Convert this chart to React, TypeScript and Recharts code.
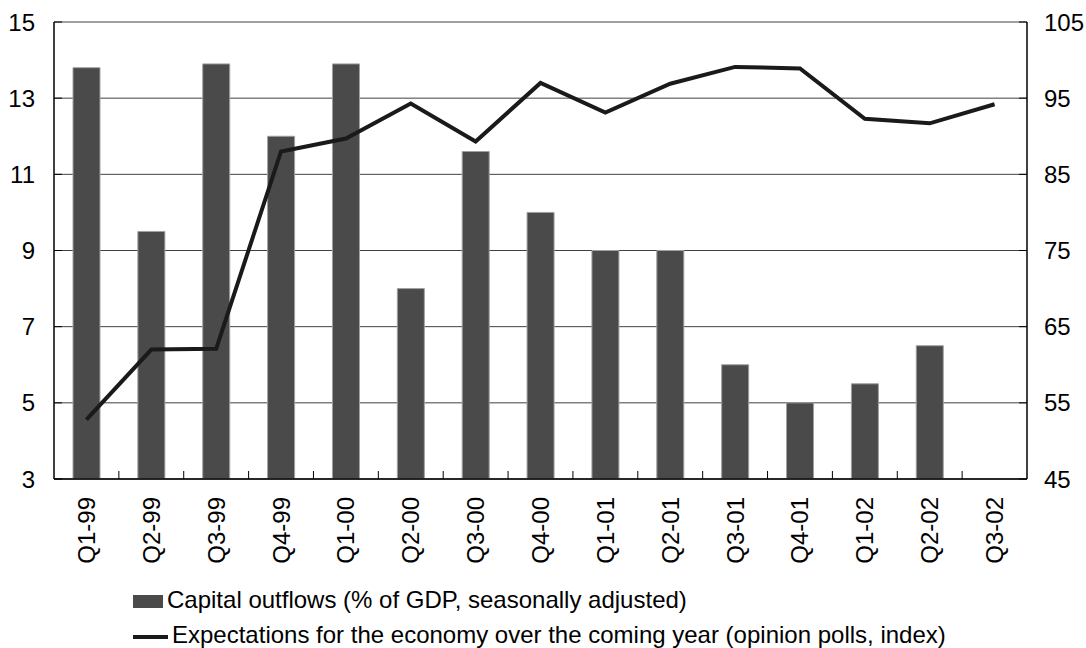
import React from 'react';
import { ComposedChart, Bar, Line, XAxis, YAxis, CartesianGrid } from 'recharts';

const quarters = [
  'Q1-99', 'Q2-99', 'Q3-99', 'Q4-99', 'Q1-00', 'Q2-00', 'Q3-00', 'Q4-00',
  'Q1-01', 'Q2-01', 'Q3-01', 'Q4-01', 'Q1-02', 'Q2-02', 'Q3-02',
];
const outflows = [13.8, 9.5, 13.9, 12.0, 13.9, 8.0, 11.6, 10.0, 9.0, 9.0, 6.0, 5.0, 5.5, 6.5, null];
const expectations = [52.8, 62.0, 62.1, 88.0, 89.7, 94.3, 89.3, 97.0, 93.1, 96.9, 99.1, 98.9, 92.3, 91.7, 94.2];
const leftTicks = [3, 5, 7, 9, 11, 13, 15];
const rightTicks = [45, 55, 65, 75, 85, 95, 105];

const data = quarters.map((q, i) => ({ q, outflows: outflows[i], expectations: expectations[i] }));

const FONT = '"Liberation Sans", Arial, sans-serif';
const FS = 24;
const W = 1078;
const H = 640;
const PLOT_LEFT = 46;
const PLOT_RIGHT = 59;
const X_AXIS_H = 169;
const AXIS_Y = H - X_AXIS_H;
const BAND = (W - PLOT_LEFT - PLOT_RIGHT) / quarters.length;

const XTick = (props: any) => {
  const { x, payload, index } = props;
  return (
    <g>
      {index < quarters.length - 1 && (
        <line x1={x + BAND / 2} x2={x + BAND / 2} y1={AXIS_Y} y2={AXIS_Y - 8} stroke="#000" strokeWidth={1} />
      )}
      <text
        x={0}
        y={0}
        transform={`translate(${x + 8.5},${AXIS_Y + 18}) rotate(-90)`}
        textAnchor="end"
        fontSize={FS}
        fontFamily={FONT}
        fill="#000"
      >
        {payload.value}
      </text>
    </g>
  );
};

const LeftTick = (props: any) => {
  const { x, y, payload } = props;
  return (
    <g>
      <line x1={x} x2={x + 8} y1={y} y2={y} stroke="#000" />
      <text x={x - 19} y={y + 8.5} textAnchor="end" fontSize={FS} fontFamily={FONT} fill="#000">
        {payload.value}
      </text>
    </g>
  );
};

const RightTick = (props: any) => {
  const { x, y, payload } = props;
  return (
    <g>
      <line x1={x} x2={x - 8} y1={y} y2={y} stroke="#000" />
      <text x={x + 17} y={y + 8.5} textAnchor="start" fontSize={FS} fontFamily={FONT} fill="#000">
        {payload.value}
      </text>
    </g>
  );
};

export default function App() {
  return (
    <div style={{ width: 1086, height: 648, padding: '8px 0 0 8px', boxSizing: 'border-box', fontFamily: FONT }}>
      {/* the chart takes the whole window, so drop the body margin */}
      <style>{'html { overflow: hidden; } body { margin: 0; }'}</style>
      <div style={{ position: 'relative', width: W, height: H }}>
        <ComposedChart width={W} height={H} data={data} margin={{ top: 14, right: 0, bottom: 0, left: 0 }}>
          <CartesianGrid vertical={false} stroke="#404040" strokeWidth={1} yAxisId="left" />
          <XAxis
            dataKey="q"
            height={X_AXIS_H}
            tickLine={false}
            tickSize={0}
            tickMargin={0}
            interval={0}
            stroke="#000"
            strokeWidth={1.5}
            tick={<XTick />}
          />
          <YAxis
            yAxisId="left"
            orientation="left"
            width={PLOT_LEFT}
            domain={[3, 15]}
            ticks={leftTicks}
            tickLine={false}
            tickSize={0}
            tickMargin={0}
            stroke="#000"
            strokeWidth={1.5}
            tick={<LeftTick />}
          />
          <YAxis
            yAxisId="right"
            orientation="right"
            width={PLOT_RIGHT}
            domain={[45, 105]}
            ticks={rightTicks}
            tickLine={false}
            tickSize={0}
            tickMargin={0}
            stroke="#000"
            strokeWidth={1.5}
            tick={<RightTick />}
          />
          <Bar
            yAxisId="left"
            dataKey="outflows"
            barSize={27}
            fill="#4a4a4a"
            stroke="#a0a0a0"
            strokeWidth={1}
            isAnimationActive={false}
          />
          <Line
            yAxisId="right"
            dataKey="expectations"
            type="linear"
            stroke="#1a1a1a"
            strokeWidth={4}
            dot={false}
            activeDot={false}
            isAnimationActive={false}
          />
        </ComposedChart>
        {/* legend */}
        <div style={{ position: 'absolute', left: 125, top: 587, width: 30, height: 13, background: '#4a4a4a' }} />
        <div style={{ position: 'absolute', left: 159, top: 580, fontSize: FS, lineHeight: '24px', color: '#000', whiteSpace: 'nowrap' }}>
          Capital outflows (% of GDP, seasonally adjusted)
        </div>
        <div style={{ position: 'absolute', left: 125, top: 627, width: 35, height: 4, background: '#1a1a1a' }} />
        <div style={{ position: 'absolute', left: 164, top: 615, fontSize: FS, lineHeight: '24px', color: '#000', whiteSpace: 'nowrap' }}>
          Expectations for the economy over the coming year (opinion polls, index)
        </div>
      </div>
    </div>
  );
}
